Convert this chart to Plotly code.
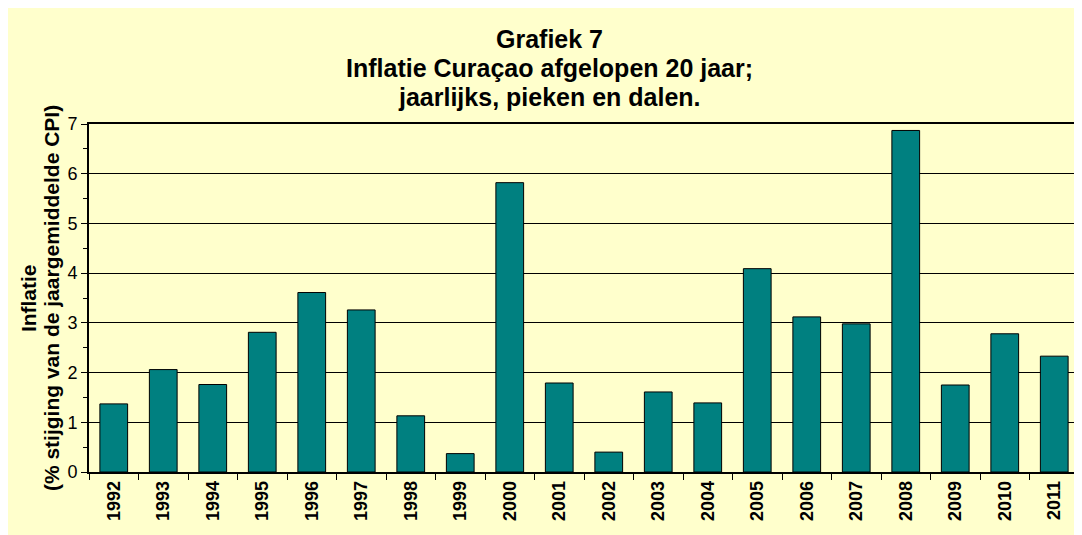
import plotly.graph_objects as go

years = [str(y) for y in range(1992, 2012)]
inflation = [1.37, 2.06, 1.76, 2.81, 3.61, 3.26, 1.13, 0.37, 5.82, 1.79,
             0.40, 1.61, 1.39, 4.09, 3.12, 2.98, 6.87, 1.75, 2.78, 2.33]
y_ticks = [0, 1, 2, 3, 4, 5, 6, 7]

title_lines = ["Grafiek 7", "Inflatie Curaçao afgelopen 20 jaar;", "jaarlijks, pieken en dalen."]
ytitle_lines = ["Inflatie", "(% stijging van de jaargemiddelde CPI)"]

OFF = 8  # page body margin
W, H = 1074, 527
L, R, T, B = 81, 1, 116, 63
PW, PH = W - L - R, H - T - B

def px_x(p):  # screen pixel -> paper coord
    return (p - OFF - L) / PW

def px_y(p):
    return 1 - (p - OFF - T) / PH

YELLOW = "#FFFFCC"
FONT = "Liberation Sans, Arial, sans-serif"

fig = go.Figure(go.Bar(
    x=years, y=inflation,
    marker=dict(color="#008080", line=dict(color="black", width=1)),
))

fig.update_layout(
    width=W, height=H,
    margin=dict(l=L, r=R, t=T, b=B),
    paper_bgcolor=YELLOW,
    plot_bgcolor=YELLOW,
    bargap=0.44,
    showlegend=False,
    font=dict(family=FONT, color="black"),
)

fig.update_xaxes(
    type="category", tickangle=-90,
    tickfont=dict(size=18, family=FONT, color="black", weight="bold"),
    showline=True, linecolor="black", linewidth=1.5, mirror=True,
    ticks="outside", tickson="boundaries", ticklen=6, tickcolor="black",
    showgrid=False,
)
fig.update_yaxes(
    range=[0, 7], tickvals=y_ticks,
    tickfont=dict(size=18, family=FONT, color="black"),
    showline=True, linecolor="black", linewidth=2, mirror=True,
    ticks="outside", ticklen=6, tickcolor="black",
    minor=dict(dtick=0.5, ticks="outside", ticklen=4, tickcolor="black", showgrid=False),
    showgrid=True, gridcolor="black", gridwidth=1,
    zeroline=False,
)

annotations = []
title_y = [39, 68, 97]
for line, yy in zip(title_lines, title_y):
    annotations.append(dict(text=line, xref="paper", yref="paper",
                            x=px_x(550), y=px_y(yy), xanchor="center", yanchor="middle",
                            showarrow=False,
                            font=dict(size=25, family=FONT, color="black", weight="bold")))
ytitle_x = [28, 51]
for line, xx in zip(ytitle_lines, ytitle_x):
    annotations.append(dict(text=line, xref="paper", yref="paper",
                            x=px_x(xx), y=px_y(298), xanchor="center", yanchor="middle",
                            textangle=-90, showarrow=False,
                            font=dict(size=21, family=FONT, color="black", weight="bold")))
fig.update_layout(annotations=annotations)

fig.write_html("out.html")
